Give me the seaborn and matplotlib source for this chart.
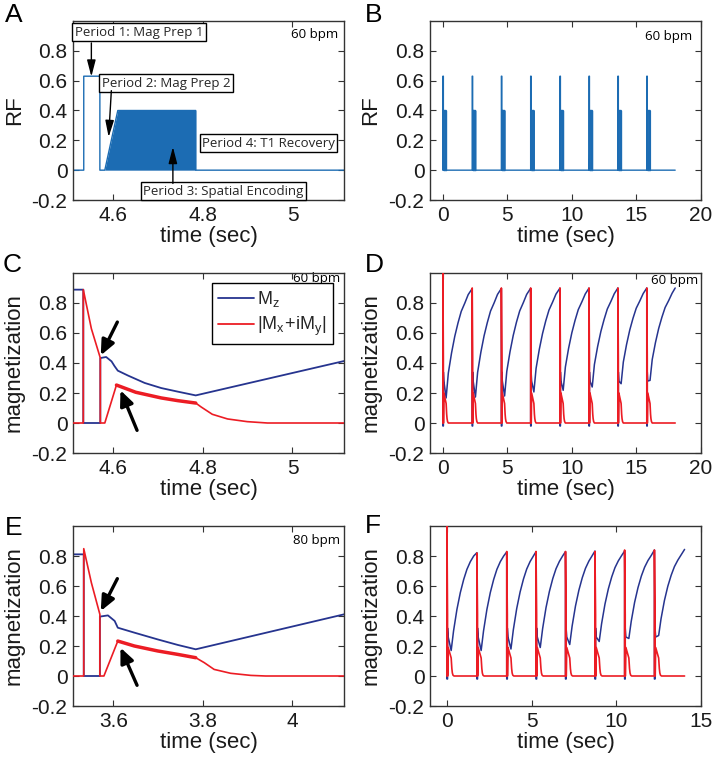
import numpy as np
import matplotlib
matplotlib.use("Agg")
import matplotlib.pyplot as plt
from matplotlib.lines import Line2D
import seaborn as sns

# ---------------- values ----------------
y_ticks = [-0.2, 0, 0.2, 0.4, 0.6, 0.8]
y_tick_labels = ["-0.2", "0", "0.2", "0.4", "0.6", "0.8"]

# RF pulse shape, offsets (s) from the start of each cycle
prep_offset = [0.0, 0.0, 0.036, 0.036]
prep_amp = [0.0, 0.63, 0.63, 0.0]
enc_offset = [0.047, 0.076, 0.25, 0.25]
enc_amp = [0.0, 0.40, 0.40, 0.0]

# A: single cycle at 60 bpm
a_pulse = 4.534
a_xlim = (4.51, 5.115)
a_xticks = [4.6, 4.8, 5.0]
a_xticklabels = ["4.6", "4.8", "5"]

# B: whole acquisition at 60 bpm
b_pulses = [0.0, 2.27, 4.53, 6.80, 9.07, 11.32, 13.56, 15.80]
b_end = 18.0

# C: single cycle at 60 bpm
c_t_mz = [4.51, 4.533, 4.533, 4.571, 4.571, 4.584, 4.596, 4.603, 4.610,
          4.633, 4.670, 4.707, 4.744, 4.784, 5.115]
c_mz = [0.889, 0.889, 0.0, 0.0, 0.433, 0.440, 0.411, 0.378, 0.349,
        0.316, 0.267, 0.233, 0.209, 0.184, 0.413]
c_t_mxy = [4.51, 4.533, 4.533, 4.551, 4.571, 4.571, 4.581, 4.607, 4.650,
           4.707, 4.744, 4.784, 4.796, 4.821, 4.855, 4.899, 4.944, 5.115]
c_mxy = [0.0, 0.0, 0.889, 0.629, 0.433, 0.0, 0.0, 0.253, 0.205,
         0.167, 0.149, 0.133, 0.107, 0.058, 0.027, 0.009, 0.0, 0.0]
c_band = (4.607, 4.784)

# E: single cycle at 80 bpm
e_t_mz = [3.51, 3.534, 3.534, 3.570, 3.570, 3.588, 3.603, 3.610,
          3.647, 3.699, 3.744, 3.784, 4.115]
e_mz = [0.811, 0.811, 0.0, 0.0, 0.396, 0.404, 0.367, 0.322,
        0.289, 0.244, 0.207, 0.178, 0.411]
e_t_mxy = [3.51, 3.534, 3.534, 3.551, 3.570, 3.570, 3.579, 3.610, 3.647,
           3.699, 3.744, 3.784, 3.803, 3.825, 3.862, 3.907, 3.940, 4.115]
e_mxy = [0.0, 0.0, 0.849, 0.622, 0.411, 0.0, 0.0, 0.233, 0.200,
         0.167, 0.144, 0.122, 0.089, 0.044, 0.018, 0.004, 0.0, 0.0]
e_band = (3.610, 3.784)

# transient right after each pulse (offsets from pulse)
mz_trans_offset = [0.0, 0.036, 0.036, 0.075]
mxy_offset = [0.0, 0.0, 0.036, 0.036, 0.047, 0.075, 0.25, 0.29, 0.32, 0.36, 0.42]

# D: whole acquisition at 60 bpm
d_pulses = [0.0, 2.27, 4.53, 6.80, 9.07, 11.32, 13.56, 15.80]
d_end = 18.0
d_mz_start = 0.0
d_mz_trans = [-0.02, -0.02, 0.34, 0.28]
d_rec_offset = [0.25, 0.42, 0.67, 0.92, 1.17, 1.42, 1.70, 1.96]
d_mz_rec = [
    [0.167, 0.333, 0.467, 0.578, 0.667, 0.744, 0.800, 0.856, 0.896],
    [0.173, 0.338, 0.471, 0.581, 0.669, 0.746, 0.801, 0.857, 0.897],
    [0.180, 0.344, 0.475, 0.584, 0.672, 0.747, 0.802, 0.857, 0.898],
    [0.207, 0.364, 0.491, 0.596, 0.681, 0.753, 0.806, 0.859, 0.899],
    [0.218, 0.373, 0.498, 0.601, 0.684, 0.756, 0.808, 0.860, 0.899],
    [0.240, 0.390, 0.510, 0.610, 0.690, 0.760, 0.811, 0.862, 0.900],
    [0.262, 0.406, 0.523, 0.620, 0.698, 0.765, 0.814, 0.863, 0.900],
    [0.284, 0.423, 0.536, 0.630, 0.705, 0.770, 0.817, 0.865, 0.900],
]
d_tip = [1.0, 0.90, 0.90, 0.90, 0.90, 0.90, 0.90, 0.90]
d_mxy_after = [0.43, 0.0, 0.0, 0.20, 0.13, 0.06, 0.03, 0.01, 0.0]

# F: whole acquisition at 80 bpm
f_pulses = [0.0, 1.77, 3.53, 5.26, 7.00, 8.74, 10.49, 12.25]
f_end = 14.03
f_mz_start = 0.0
f_mz_trans = [-0.02, -0.02, 0.32, 0.26]
f_rec_offset = [0.25, 0.39, 0.59, 0.79, 0.99, 1.18, 1.38, 1.58]
f_mz_rec = [
    [0.17, 0.300, 0.444, 0.556, 0.644, 0.711, 0.762, 0.800, 0.822],
    [0.17, 0.300, 0.444, 0.556, 0.644, 0.711, 0.762, 0.800, 0.827],
    [0.18, 0.308, 0.450, 0.560, 0.647, 0.713, 0.763, 0.801, 0.829],
    [0.19, 0.316, 0.456, 0.564, 0.650, 0.715, 0.764, 0.802, 0.829],
    [0.21, 0.332, 0.467, 0.572, 0.655, 0.718, 0.766, 0.803, 0.833],
    [0.23, 0.348, 0.479, 0.581, 0.661, 0.722, 0.768, 0.804, 0.833],
    [0.25, 0.364, 0.491, 0.589, 0.667, 0.725, 0.770, 0.805, 0.840],
    [0.27, 0.381, 0.503, 0.598, 0.672, 0.729, 0.772, 0.808, 0.844],
]
f_tip = [1.0, 0.82, 0.83, 0.83, 0.83, 0.83, 0.84, 0.84]
f_mxy_after = [0.41, 0.0, 0.0, 0.19, 0.12, 0.05, 0.02, 0.005, 0.0]

# ---------------- helpers ----------------
def rf_train(pulses, start, end):
    t, v = [start], [0.0]
    for p in pulses:
        t += [p + o for o in prep_offset + enc_offset]
        v += prep_amp + enc_amp
    return t + [end], v + [0.0]

def mz_train(pulses, end, start, trans, rec_off, rec):
    t, v = [pulses[0]], [start]
    for k, p in enumerate(pulses):
        nxt = pulses[k + 1] if k + 1 < len(pulses) else end
        t += [p + o for o in mz_trans_offset]
        v += trans
        t += [p + o for o in rec_off] + [nxt]
        v += rec[k]
    return t, v

def mxy_train(pulses, end, tips, after):
    t, v = [], []
    for p, tip in zip(pulses, tips):
        t += [p + o for o in mxy_offset]
        v += [0.0, tip] + after
    return t + [end], v + [0.0]

rf_col = "#1c6cb3"
mz_col = "#26348f"
mxy_col = "#ec1c24"
ink = "#1a1a1a"

sns.set_style("ticks")
plt.rcParams["font.family"] = ["Liberation Sans", "DejaVu Sans"]
plt.rcParams["mathtext.default"] = "regular"

W, H = 716, 758
fig = plt.figure(figsize=(W / 100, H / 100), dpi=100)

def add_ax(left, top, right, bottom):
    return fig.add_axes([left / W, 1 - bottom / H, (right - left) / W, (bottom - top) / H])

axA = add_ax(73, 21, 344, 200)
axB = add_ax(430, 21, 701, 200)
axC = add_ax(73, 273, 344, 453)
axD = add_ax(430, 273, 701, 453)
axE = add_ax(73, 526, 344, 706)
axF = add_ax(430, 526, 701, 706)

def style(ax, xlim, xticks, xticklabels, ylabel):
    ax.set_xlim(xlim)
    ax.set_ylim(-0.2, 1.0)
    ax.set_xticks(xticks)
    ax.set_xticklabels(xticklabels)
    ax.set_yticks(y_ticks)
    ax.set_yticklabels(y_tick_labels)
    ax.tick_params(direction="in", top=True, right=True, length=4, width=0.8,
                   labelsize=15, pad=4, color="#333333", labelcolor=ink)
    ax.set_xlabel("time (sec)", fontsize=16, labelpad=1, color=ink)
    ax.set_ylabel(ylabel, fontsize=16, labelpad=5, color=ink)
    for s in ax.spines.values():
        s.set_linewidth(1.0)
        s.set_color("#333333")

def line(ax, t, v, color, lw=1.1, z=2):
    sns.lineplot(x=t, y=v, ax=ax, sort=False, estimator=None, color=color,
                 linewidth=lw, legend=False, zorder=z)

def bpm(ax, x, y, txt):
    ax.text(x, y, txt, transform=ax.transAxes, ha="right", va="center",
            fontsize=9.5, family="Open Sans", color="black", zorder=1)

def big_arrow(ax, tail, tip):
    ax.annotate("", xy=tip, xytext=tail,
                arrowprops=dict(arrowstyle="-|>,head_length=0.45,head_width=0.2",
                                mutation_scale=20, lw=2.4, color="black",
                                shrinkA=0, shrinkB=0), zorder=6)

# ---- A ----
t, v = rf_train([a_pulse], a_xlim[0], a_xlim[1])
line(axA, t, v, rf_col, lw=1.0)
enc_t = [a_pulse + o for o in enc_offset]
axA.fill_between(enc_t, enc_amp, 0, color=rf_col, lw=0, zorder=2)
style(axA, a_xlim, a_xticks, a_xticklabels, "RF")
bpm(axA, 0.978, 0.927, "60 bpm")

box = dict(boxstyle="square,pad=0.18", fc="white", ec="black", lw=1.0)
a_labels = ["Period 1: Mag Prep 1", "Period 2: Mag Prep 2",
            "Period 3: Spatial Encoding", "Period 4: T1 Recovery"]
a_label_pos = [(4.514, 0.924), (4.574, 0.584), (4.667, -0.142), (4.798, 0.182)]
a_arrows = [((4.551, 0.853), (4.551, 0.627)),
            ((4.5956, 0.533), (4.5896, 0.222)),
            ((4.733, -0.089), (4.733, 0.156))]
for txt, (x, y) in zip(a_labels, a_label_pos):
    axA.text(x, y, txt, ha="left", va="center", fontsize=9.5, family="Open Sans",
             bbox=box, zorder=5, clip_on=False)
for tail, tip in a_arrows:
    axA.annotate("", xy=tip, xytext=tail,
                 arrowprops=dict(arrowstyle="-|>,head_length=0.5,head_width=0.13",
                                 mutation_scale=20, lw=1.0, color="black",
                                 shrinkA=0, shrinkB=0), zorder=6)

# ---- B ----
t, v = rf_train(b_pulses, b_pulses[0], b_end)
line(axB, t, v, rf_col, lw=1.0)
for p in b_pulses:
    axB.fill_between([p + o for o in enc_offset], enc_amp, 0, color=rf_col, lw=0.8, zorder=2)
style(axB, (-1, 20), [0, 5, 10, 15, 20], ["0", "5", "10", "15", "20"], "RF")
bpm(axB, 0.968, 0.916, "60 bpm")

# ---- C / E ----
for ax, tm, mz, tx, mxy, band, xlim, ticks, labels, txt, yb, arrows in [
    (axC, c_t_mz, c_mz, c_t_mxy, c_mxy, c_band, (4.51, 5.115), [4.6, 4.8, 5.0],
     ["4.6", "4.8", "5"], "60 bpm", 0.972,
     [((4.609, 0.673), (4.572, 0.451)), ((4.653, -0.049), (4.616, 0.218))]),
    (axE, e_t_mz, e_mz, e_t_mxy, e_mxy, e_band, (3.51, 4.115), [3.6, 3.8, 4.0],
     ["3.6", "3.8", "4"], "80 bpm", 0.92,
     [((3.609, 0.649), (3.572, 0.433)), ((3.653, -0.062), (3.616, 0.189))]),
]:
    line(ax, tm, mz, mz_col, lw=1.3)
    line(ax, tx, mxy, mxy_col, lw=1.2, z=3)
    tb = np.array(tx)
    sel = (tb >= band[0] - 1e-9) & (tb <= band[1] + 1e-9)
    line(ax, list(tb[sel]), list(np.array(mxy)[sel]), mxy_col, lw=2.5, z=3)
    style(ax, xlim, ticks, labels, "magnetization")
    bpm(ax, 0.985, yb, txt)
    for tail, tip in arrows:
        big_arrow(ax, tail, tip)

handles = [Line2D([], [], color=mz_col, lw=1.3), Line2D([], [], color=mxy_col, lw=1.3)]
leg = axC.legend(handles, [r"$\mathregular{M_z}$", r"$\mathregular{|M_x\!+\!iM_y|}$"],
                 loc="upper right", bbox_to_anchor=(0.959, 0.944), borderaxespad=0,
                 fontsize=13, handlelength=2.0, handletextpad=0.15, labelspacing=0.3,
                 borderpad=0.35, fancybox=False, framealpha=1, edgecolor="black")
leg.get_frame().set_linewidth(1.0)
leg.set_zorder(7)

# ---- D / F ----
for ax, pulses, end, start, trans, roff, rec, tips, after, xlim, ticks, labels in [
    (axD, d_pulses, d_end, d_mz_start, d_mz_trans, d_rec_offset, d_mz_rec, d_tip,
     d_mxy_after, (-1, 20), [0, 5, 10, 15, 20], ["0", "5", "10", "15", "20"]),
    (axF, f_pulses, f_end, f_mz_start, f_mz_trans, f_rec_offset, f_mz_rec, f_tip,
     f_mxy_after, (-1, 15), [0, 5, 10, 15], ["0", "5", "10", "15"]),
]:
    t, v = mz_train(pulses, end, start, trans, roff, rec)
    line(ax, t, v, mz_col, lw=1.1)
    t, v = mxy_train(pulses, end, tips, after)
    line(ax, t, v, mxy_col, lw=1.2, z=3)
    style(ax, xlim, ticks, labels, "magnetization")

bpm(axD, 0.989, 0.961, "60 bpm")

# panel letters
for letter, x, yb in [("A", 5, 21.7), ("B", 365, 21.7), ("C", 3, 272),
                      ("D", 365, 272), ("E", 5, 535), ("F", 365, 533)]:
    fig.text(x / W, 1 - yb / H, letter, fontsize=19, va="baseline", ha="left", color="black")

fig.savefig("out.png", dpi=100)
